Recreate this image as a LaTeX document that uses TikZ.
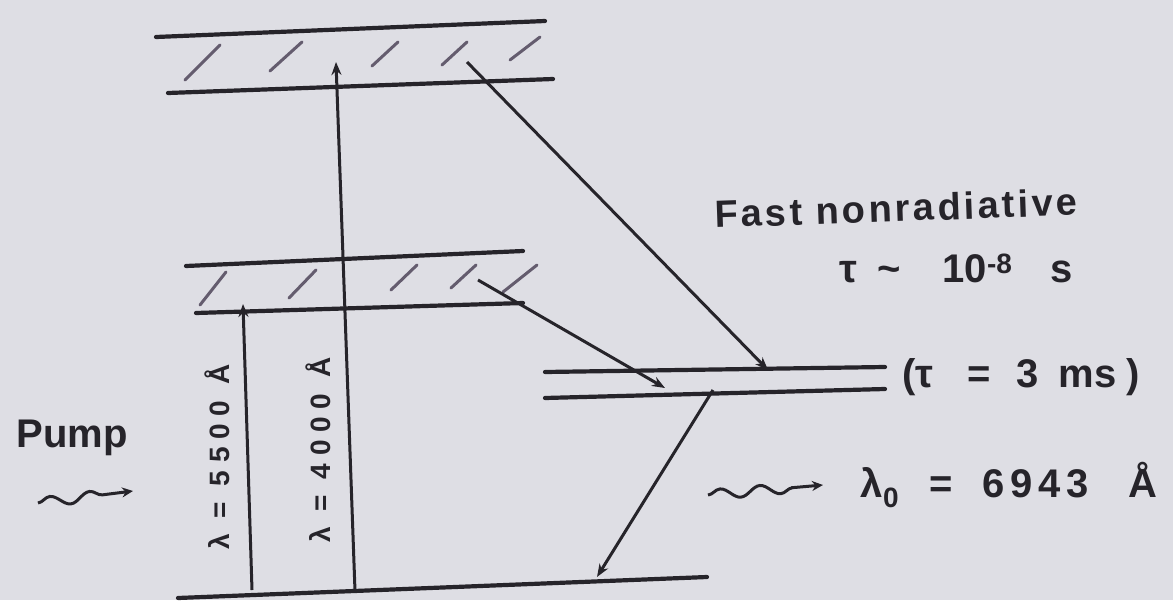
\documentclass[tikz,border=0pt]{standalone}
\usepackage{fontspec}
\setmainfont{Liberation Sans}
\usetikzlibrary{arrows.meta,decorations.pathmorphing}
\definecolor{bg}{RGB}{222,222,228}
\definecolor{ink}{RGB}{38,36,42}
\definecolor{hatchc}{RGB}{100,92,110}
\begin{document}
\begin{tikzpicture}[x=1pt,y=-1pt,
  level/.style={draw=ink, line width=4.2pt, line cap=round},
  hatchline/.style={draw=hatchc, line width=3pt, line cap=round},
  trans/.style={draw=ink, line width=3pt, -{Stealth[length=13pt,width=10pt]}},
  wavy/.style={draw=ink, line width=3pt, -{Stealth[length=11pt,width=10pt]}, decorate,
    decoration={snake, amplitude=5pt, segment length=40pt, post length=18pt}},
  lab/.style={inner sep=0pt, text=ink, font=\fontsize{40}{44}\selectfont\bfseries},
  rlab/.style={inner sep=0pt, text=ink, rotate=90, font=\fontsize{28}{30}\selectfont\bfseries\addfontfeature{LetterSpace=28}}]
\fill[bg] (0,0) rectangle (1173,600);
\useasboundingbox (0,0) rectangle (1173,600);
% top band
\coordinate (t1L) at (156,37); \coordinate (t1R) at (545,21);
\coordinate (t2L) at (168,93); \coordinate (t2R) at (553,79);
\draw[level] (t1L) -- (t1R);
\draw[level] (t2L) -- (t2R);
\foreach \a/\b/\c/\d in {185/80/220/45, 270/71/302/42, 372/66/398/42, 442/65/467/42, 510/60/540/37}
  \draw[hatchline] (\a,\b) -- (\c,\d);
% middle band
\coordinate (m1L) at (186,266); \coordinate (m1R) at (523,251);
\coordinate (m2L) at (196,313); \coordinate (m2R) at (523,303);
\draw[level] (m1L) -- (m1R);
\draw[level] (m2L) -- (m2R);
\foreach \a/\b/\c/\d in {200/305/226/272, 289/298/316/270, 391/290/417/265, 451/288/476/265, 503/292/537/265}
  \draw[hatchline] (\a,\b) -- (\c,\d);
% metastable pair
\coordinate (s1L) at (545,372); \coordinate (s1R) at (885,367);
\coordinate (s2L) at (545,398); \coordinate (s2R) at (885,389);
\draw[level] (s1L) -- (s1R);
\draw[level] (s2L) -- (s2R);
% ground
\coordinate (gL) at (178,598); \coordinate (gR) at (707,577);
\draw[level] (gL) -- (gR);
% transitions
\coordinate (a1s) at (252,590); \coordinate (a1e) at (243,304);
\coordinate (a2s) at (355,591); \coordinate (a2e) at (336,62);
\coordinate (d1s) at (467,62);  \coordinate (d1e) at (768,370);
\coordinate (d2s) at (478,280); \coordinate (d2e) at (665,388);
\coordinate (es) at (713,390);  \coordinate (ee) at (597,577);
\draw[trans] (a1s) -- (a1e);
\draw[trans] (a2s) -- (a2e);
\draw[trans] (d1s) -- (d1e);
\draw[trans] (d2s) -- (d2e);
\draw[trans] (es) -- (ee);
% wavy arrows
\coordinate (pw1) at (38,503); \coordinate (pw2) at (133,491);
\coordinate (lw1) at (708,495); \coordinate (lw2) at (823,485);
\draw[wavy] (pw1) -- (pw2);
\draw[wavy] (lw1) -- (lw2);
% labels
\node[lab] (pump) at (72,438) {Pump};
\node[rlab] (l55) at (217,457) {λ = 5500 Å};
\node[rlab] (l40) at (318,450) {λ = 4000 Å};
\node[lab, rotate=2, font=\fontsize{38}{44}\selectfont\bfseries\addfontfeature{LetterSpace=8.5}] (fast) at (896,208) {Fast nonradiative};
\node[lab] (tau8) at (956,268) {τ\hspace{20pt}\textasciitilde\hspace{42pt}10\textsuperscript{-8}\hspace{38pt}s};
\node[lab] (tau3) at (1021,377) {(τ\hspace{34pt}=\hspace{26pt}3\hspace{20pt}ms\hspace{10pt})};
\node[lab] (lam) at (1009,485) {λ\textsubscript{0}\hspace{30pt}=\hspace{30pt}{\addfontfeature{LetterSpace=14}6943}\hspace{40pt}Å};
\end{tikzpicture}
\end{document}
